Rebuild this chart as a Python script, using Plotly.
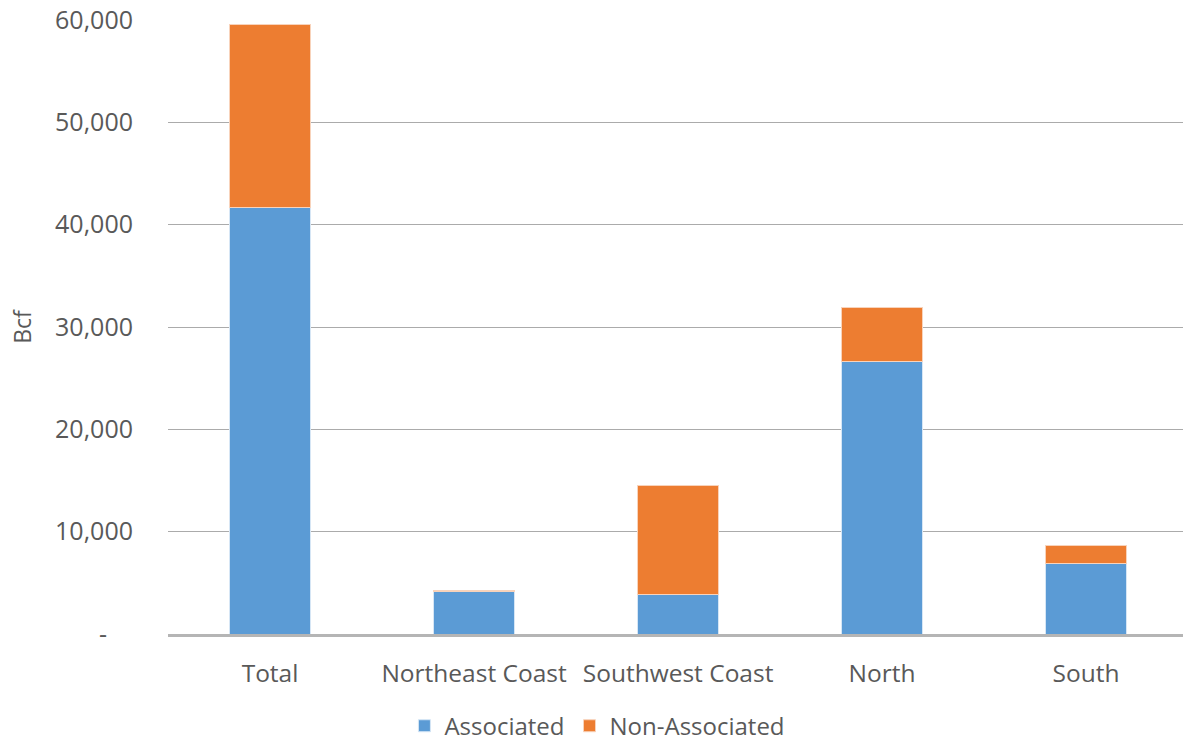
import plotly.graph_objects as go

categories = ["Total", "Northeast Coast", "Southwest Coast", "North", "South"]
associated = [41700, 4150, 3900, 26650, 6900]
non_associated = [17900, 150, 10650, 5250, 1750]
y_tickvals = [0, 10000, 20000, 30000, 40000, 50000, 60000]
y_ticktext = ["-\u00a0\u00a0\u00a0\u00a0", "10,000", "20,000", "30,000", "40,000", "50,000", "60,000"]

FONT = "Open Sans, Noto Sans, sans-serif"
GREY = "#595959"

fig = go.Figure()
fig.add_trace(go.Bar(name="Associated", x=categories, y=associated,
                     marker=dict(color="#5B9BD5", line=dict(color="#d6e6f5", width=1)), width=0.4))
fig.add_trace(go.Bar(name="Non-Associated", x=categories, y=non_associated,
                     marker=dict(color="#ED7D31", line=dict(color="#f8d3bb", width=1)), width=0.4))

fig.update_layout(
    barmode="stack",
    width=1183, height=744,
    margin=dict(l=168, r=0, t=20, b=110),
    paper_bgcolor="white", plot_bgcolor="white",
    font=dict(family=FONT, color=GREY, size=24),
    showlegend=True,
    legend=dict(orientation="h", xref="container", yref="container",
                x=0.505, xanchor="center", y=0.024, yanchor="middle",
                font=dict(size=24, color=GREY),
                traceorder="normal", itemwidth=30),
    xaxis=dict(range=[-0.5, 4.475], showgrid=False, zeroline=False,
               showline=True, linecolor="#b5b5b5", linewidth=3,
               tickfont=dict(size=24.5, color=GREY), ticks="", ticklabelstandoff=16),
    yaxis=dict(range=[0, 60000], tickvals=y_tickvals, ticktext=y_ticktext,
               showgrid=True, gridcolor="#ababab", gridwidth=1.3, zeroline=False,
               showline=False, tickfont=dict(size=25, color=GREY), ticks="",
               ticklabelstandoff=34,
               title=dict(text="Bcf", font=dict(size=23, color=GREY), standoff=16)),
)

fig.write_html("out.html")
